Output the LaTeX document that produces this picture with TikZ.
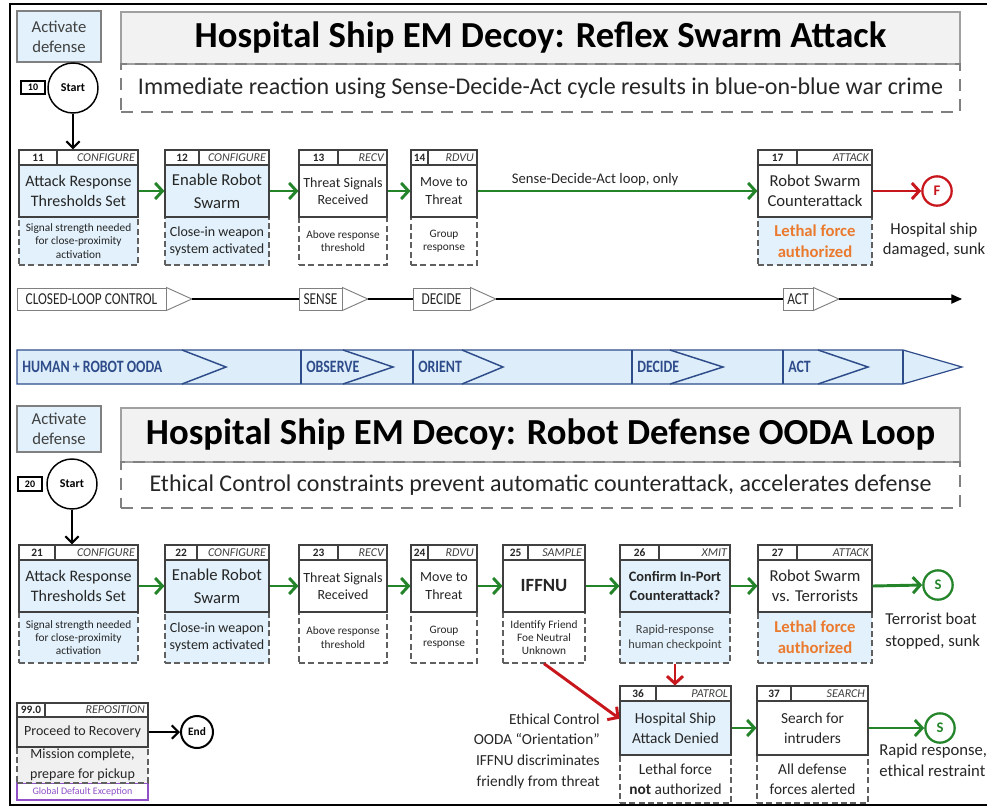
\documentclass[tikz,border=0pt]{standalone}
\usepackage{fontspec}
\setmainfont{Carlito}
\newfontfamily\narrowf[FakeStretch=0.8]{Carlito}
\usetikzlibrary{arrows.meta,calc}

\definecolor{lblue}{HTML}{E2F1FB}
\definecolor{bcol}{HTML}{404040}
\definecolor{dcol}{HTML}{606060}
\definecolor{tgray}{HTML}{F2F2F2}
\definecolor{tbord}{HTML}{A0A0A0}
\definecolor{grn}{HTML}{23842A}
\definecolor{rd}{HTML}{C8161D}
\definecolor{org}{HTML}{EB7A2E}
\definecolor{oblue}{HTML}{2E4C8A}
\definecolor{ofill}{HTML}{DDEEFA}
\definecolor{purp}{HTML}{9050C8}
\definecolor{txt}{HTML}{262626}
\definecolor{lgray}{HTML}{F0F0F0}

\newcommand\fs[2]{\fontsize{#1}{#2}\selectfont}
% box: name, x1, y1, x2, y2, style, text
\newcommand\bx[7]{\node[#6,minimum width={(#4-#2)*0.75pt},minimum height={(#5-#3)*0.75pt}] (#1) at ({(#2+#4)/2},{(#3+#5)/2}) {#7};}
% header: id, x1, xdiv, x2, y1, y2, number, tag
\newcommand\hdr[8]{%
 \bx{n#1}{#2}{#5}{#3}{#6}{hd}{#7}
 \bx{t#1}{#3}{#5}{#4}{#6}{hd}{}
 \node[tg] (g#1) at ([xshift=-2.5pt]t#1.east) {#8};}

\begin{document}
\begin{tikzpicture}[x=0.75pt,y=-0.75pt,
 hd/.style={draw=bcol,line width=0.8pt,fill=white,inner sep=0pt,text=txt,font=\fs{8.5}{9}\bfseries},
 tg/.style={anchor=east,inner sep=0pt,font=\fs{9}{9}\itshape,text=bcol},
 mb/.style={draw=bcol,line width=0.8pt,inner sep=0pt,align=center,text=txt},
 lb/.style={draw=dcol,line width=0.9pt,dash pattern=on 4.5pt off 2.5pt,inner sep=0pt,align=center,text=txt},
 ga/.style={draw=grn,line width=2.2pt,-{Straight Barb[length=5.5pt,width=12pt]}},
 ra/.style={draw=rd,line width=2.2pt,-{Straight Barb[length=5.5pt,width=12pt]}},
 ka/.style={draw=black,line width=1.6pt,-{Straight Barb[length=5pt,width=10pt]}},
 circ/.style={circle,line width=1.5pt,inner sep=0pt,font=\fs{9}{10}\bfseries},
 oc/.style={circle,line width=1.7pt,inner sep=0pt,minimum size=22pt,font=\fs{11}{12}\bfseries},
 adbox/.style={draw=gray,line width=0.8pt,fill=lblue,inner sep=0pt,align=center,font=\fs{12.5}{15},text=bcol},
 ttl/.style={draw=tbord,line width=0.9pt,fill=tgray,inner sep=0pt,font=\fs{27.5}{30}\bfseries,text=black},
 subb/.style={draw=gray,line width=0.9pt,dash pattern=on 9pt off 6pt,inner sep=0pt,font=\fs{18}{20},text=txt},
 numb/.style={draw=black,line width=1pt,inner sep=0pt,font=\fs{7.5}{8}\bfseries},
 clb/.style={draw=gray,fill=white,line width=0.7pt,inner sep=0pt,font=\narrowf\fs{12.5}{13},text=txt},
 cltri/.style={draw=gray,fill=white,line width=0.7pt},
 cll/.style={draw=black,line width=0.8pt},
 ol/.style={anchor=west,inner sep=0pt,font=\narrowf\bfseries\fs{13}{14},text=oblue},
 note/.style={inner sep=0pt,font=\fs{12.5}{15.5},text=txt}]
\useasboundingbox (0,0) rectangle (987,807);

% frame
\draw[line width=2.2pt] (995,4) -- (10,4) -- (10,805) -- (995,805);

% ===== top section =====
\bx{ad1}{17}{11}{101}{62}{adbox}{Activate\\defense}
\bx{tt1}{121}{12}{960}{64}{ttl}{Hospital Ship EM Decoy: Reflex Swarm Attack}
\bx{st1}{121}{64}{960}{112}{subb}{Immediate reaction using Sense-Decide-Act cycle results in blue-on-blue war crime}
\bx{k10}{21}{81}{45}{94}{numb}{10}
\node[circ,draw=black,minimum size=37.5pt,line width=1.1pt] (s1) at (73,88) {Start};

% box 11
\bx{l11}{19}{217}{138}{265}{lb,fill=lblue,font=\fs{8.5}{10}}{Signal strength needed\\for close-proximity\\activation}
\bx{m11}{19}{165}{138}{217}{mb,fill=lblue,font=\fs{12}{15.5}}{Attack Response\\Thresholds Set}
\hdr{11}{19}{57}{138}{150}{165}{11}{CONFIGURE}
% box 12
\bx{l12}{165}{217}{269}{265}{lb,fill=lblue,font=\fs{10.5}{12.5}}{Close-in weapon\\system activated}
\bx{m12}{165}{165}{269}{217}{mb,fill=lblue,font=\fs{12.5}{17}}{Enable Robot\\Swarm}
\hdr{12}{165}{199}{269}{150}{165}{12}{CONFIGURE}
% box 13
\bx{l13}{299}{217}{387}{265}{lb,fill=white,font=\fs{8.5}{10}}{Above response\\threshold}
\bx{m13}{299}{165}{387}{217}{mb,fill=white,font=\fs{10.5}{13}}{Threat Signals\\Received}
\hdr{13}{299}{338}{387}{150}{165}{13}{RECV}
% box 14
\bx{l14}{411}{217}{477}{265}{lb,fill=white,font=\fs{8.5}{10}}{Group\\response}
\bx{m14}{411}{165}{477}{217}{mb,fill=white,font=\fs{10.5}{13}}{Move to\\Threat}
\hdr{14}{411}{428}{477}{150}{165}{14}{RDVU}
% box 17
\bx{l17}{758}{217}{872}{265}{lb,fill=lblue,font=\fs{12.5}{15.5}\bfseries,text=org}{Lethal force\\authorized}
\bx{m17}{758}{165}{872}{217}{mb,fill=white,font=\fs{12.5}{15}}{Robot Swarm\\Counterattack}
\hdr{17}{758}{797}{872}{150}{165}{17}{ATTACK}

\node[oc,draw=rd,text=rd] (F1) at (937,191) {F};
\node[note,align=center] (hs1) at (934,240) {Hospital ship\\damaged, sunk};

\draw[ka] (s1.south) -- (s1.south |- t11.north);
\draw[ga] (m11.east) -- (m12.west);
\draw[ga] (m12.east) -- (m13.west);
\draw[ga] (m13.east) -- (m14.west);
\draw[ga] (m14.east) -- node[pos=0.42,above=3pt,inner sep=0pt,font=\fs{11}{12},text=txt] (lab1) {Sense-Decide-Act loop, only} (m17.west);
\draw[ra] (m17.east) -- (F1.west);

% closed loop control
\coordinate (clend) at (962,299);
\bx{c1}{17}{288}{166}{310}{clb}{CLOSED-LOOP CONTROL}
\bx{c2}{299}{288}{342}{310}{clb}{SENSE}
\bx{c3}{413}{288}{470}{310}{clb}{DECIDE}
\bx{c4}{783}{288}{813}{310}{clb}{ACT}
\foreach \c in {c1,c2,c3,c4}{
 \draw[cltri] (\c.north east) -- ([xshift=19pt]\c.east) -- (\c.south east) -- cycle;
 \coordinate (\c t) at ([xshift=19pt]\c.east);}
\draw[cll] (c1t) -- (c2.west);
\draw[cll] (c2t) -- (c3.west);
\draw[cll] (c3t) -- (c4.west);
\draw[cll,-{Triangle[length=8pt,width=7pt]}] (c4t) -- (clend);

% OODA bar
\path[draw=oblue,line width=0.9pt,fill=ofill] (17,350) -- (903,350) -- (962,367) -- (903,384) -- (17,384) -- cycle;
\foreach \x in {301,413,632,783,903} \draw[oblue,line width=0.8pt] (\x,350) -- (\x,384);
\foreach \a/\b in {182/226,343/393,462/503,670/723,818/868} \draw[oblue,line width=1.1pt] (\a,350) -- (\b,367) -- (\a,384);
\node[ol] (o1) at (22,367) {HUMAN + ROBOT OODA};
\node[ol] (o2) at (306,367) {OBSERVE};
\node[ol] (o3) at (418,367) {ORIENT};
\node[ol] (o4) at (637,367) {DECIDE};
\node[ol] (o5) at (788,367) {ACT};

% ===== bottom section =====
\bx{ad2}{17}{406}{101}{452}{adbox}{Activate\\defense}
\bx{tt2}{121}{408}{960}{462}{ttl}{Hospital Ship EM Decoy: Robot Defense OODA Loop}
\bx{st2}{121}{462}{960}{508}{subb}{Ethical Control constraints prevent automatic counterattack, accelerates defense}
\bx{k20}{18}{477}{42}{491}{numb}{20}
\node[circ,draw=black,minimum size=37.5pt,line width=1.1pt] (s2) at (72,484) {Start};

% box 21
\bx{l21}{19}{612}{138}{663}{lb,fill=lblue,font=\fs{8.5}{10}}{Signal strength needed\\for close-proximity\\activation}
\bx{m21}{19}{560}{138}{612}{mb,fill=lblue,font=\fs{12}{15.5}}{Attack Response\\Thresholds Set}
\hdr{21}{19}{55}{138}{545}{560}{21}{CONFIGURE}
% box 22
\bx{l22}{165}{612}{269}{663}{lb,fill=lblue,font=\fs{10.5}{12.5}}{Close-in weapon\\system activated}
\bx{m22}{165}{560}{269}{612}{mb,fill=lblue,font=\fs{12.5}{17}}{Enable Robot\\Swarm}
\hdr{22}{165}{197}{269}{545}{560}{22}{CONFIGURE}
% box 23
\bx{l23}{299}{612}{387}{663}{lb,fill=white,font=\fs{8.5}{10}}{Above response\\threshold}
\bx{m23}{299}{560}{387}{612}{mb,fill=white,font=\fs{10.5}{13}}{Threat Signals\\Received}
\hdr{23}{299}{338}{387}{545}{560}{23}{RECV}
% box 24
\bx{l24}{411}{612}{477}{663}{lb,fill=white,font=\fs{8.5}{10}}{Group\\response}
\bx{m24}{411}{560}{477}{612}{mb,fill=white,font=\fs{10.5}{13}}{Move to\\Threat}
\hdr{24}{411}{428}{477}{545}{560}{24}{RDVU}
% box 25
\bx{l25}{503}{612}{585}{663}{lb,fill=white,font=\fs{8.5}{10}}{Identify Friend\\Foe Neutral\\Unknown}
\bx{m25}{503}{560}{585}{612}{mb,fill=white,font=\fs{14}{15}\bfseries}{IFFNU}
\hdr{25}{503}{528}{585}{545}{560}{25}{SAMPLE}
% box 26
\bx{l26}{620}{612}{730}{663}{lb,fill=lblue,font=\fs{9.3}{11},text=bcol}{Rapid-response\\human checkpoint}
\bx{m26}{620}{560}{730}{612}{mb,fill=lblue,font=\fs{10.8}{14.5}\bfseries}{Confirm In-Port\\Counterattack?}
\hdr{26}{620}{659}{730}{545}{560}{26}{XMIT}
% box 27
\bx{l27}{758}{612}{872}{663}{lb,fill=lblue,font=\fs{12.5}{15.5}\bfseries,text=org}{Lethal force\\authorized}
\bx{m27}{758}{560}{872}{612}{mb,fill=white,font=\fs{12.5}{15}}{Robot Swarm\\vs. Terrorists}
\hdr{27}{758}{797}{872}{545}{560}{27}{ATTACK}

\node[oc,draw=grn,text=grn] (S2) at (938,585) {S};
\node[note,anchor=west,align=left,font=\fs{12.5}{16}] (tb) at (885,631) {Terrorist boat\\stopped, sunk};

\draw[ka] (s2.south) -- (s2.south |- t21.north);
\draw[ga] (m21.east) -- (m22.west);
\draw[ga] (m22.east) -- (m23.west);
\draw[ga] (m23.east) -- (m24.west);
\draw[ga] (m24.east) -- (m25.west);
\draw[ga] (m25.east) -- (m26.west);
\draw[ga] (m26.east) -- (m27.west);
\draw[ga] (m27.east) -- (S2.west);

% box 36
\bx{l36}{620}{755}{731}{803}{lb,fill=white,font=\fs{11.5}{15}}{Lethal force\\\textbf{not} authorized}
\bx{m36}{620}{701}{731}{755}{mb,fill=lblue,font=\fs{11.5}{15}}{Hospital Ship\\Attack Denied}
\hdr{36}{620}{656}{731}{686}{701}{36}{PATROL}
% box 37
\bx{l37}{757}{755}{868}{803}{lb,fill=white,font=\fs{11.5}{15}}{All defense\\forces alerted}
\bx{m37}{757}{701}{868}{755}{mb,fill=white,font=\fs{11.5}{15}}{Search for\\intruders}
\hdr{37}{757}{791}{868}{686}{701}{37}{SEARCH}

\node[oc,draw=grn,text=grn] (S3) at (940,728) {S};
\node[note,anchor=west,align=left] (rr) at (879,760) {Rapid response,\\ethical restraint};
\node[note,anchor=east,align=right,font=\fs{11.5}{15.5}] (eth) at (600,751) {Ethical Control\\OODA ``Orientation''\\IFFNU discriminates\\friendly from threat};

\draw[ra] (l25.south) -- ([yshift=7pt]m36.west);
\draw[ra] (l26.south) -- (l26.south |- t36.north);
\draw[ga] (m36.east) -- (m37.west);
\draw[ga] (m37.east) -- (S3.west);

% box 99.0
\bx{p99}{17}{783}{148}{800}{draw=purp,line width=0.8pt,fill=white,inner sep=0pt,font=\fs{7.5}{8},text=purp}{Global Default Exception}
\bx{l99}{17}{747}{148}{783}{lb,fill=lgray,font=\fs{10.5}{15}}{Mission complete,\\prepare for pickup}
\bx{m99}{17}{717}{148}{747}{mb,fill=lgray,font=\fs{10.5}{12}}{Proceed to Recovery}
\hdr{99}{17}{45}{148}{703}{717}{99.0}{REPOSITION}
\node[circ,draw=black,minimum size=24pt,font=\fs{8.5}{10}\bfseries] (E99) at (197,732) {End};
\draw[ka] (m99.east) -- (E99.west);
\end{tikzpicture}
\end{document}
